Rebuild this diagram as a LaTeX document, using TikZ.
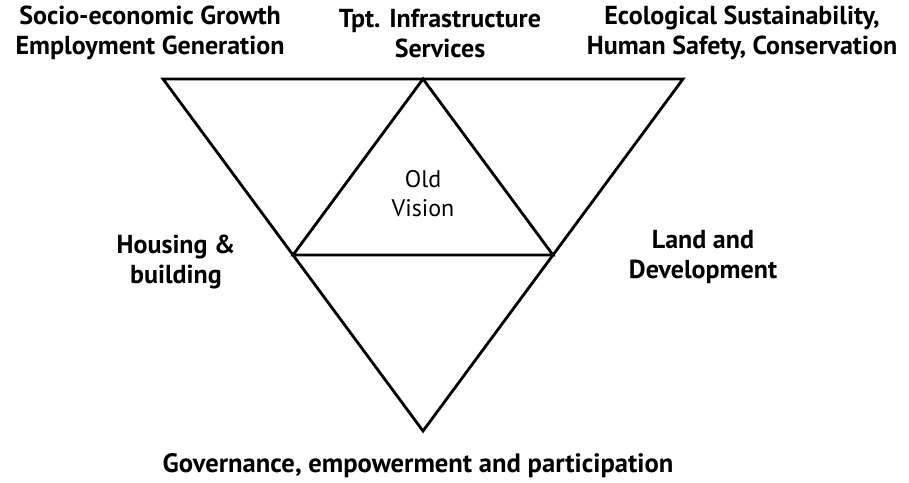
\documentclass[tikz,border=0pt]{standalone}
\usepackage{fontspec}
\setmainfont{PT Sans}
\begin{document}
\begin{tikzpicture}[x=0.5pt, y=0.5pt,
  lbl/.style={align=center, font=\fontsize{13}{15}\selectfont\bfseries, inner sep=0pt},
  txt/.style={align=center, font=\fontsize{12}{14.5}\selectfont, inner sep=0pt},
  edge/.style={line width=1.4pt, line join=miter}]
\useasboundingbox (0, 0) rectangle (909, 482);
% outer triangle and its side midpoints
\coordinate (tl) at (163, 403);
\coordinate (tr) at (683, 403);
\coordinate (bot) at (423, 51);
\coordinate (mt) at (423, 403);
\coordinate (ml) at (293, 227);
\coordinate (mr) at (553, 227);
\draw [edge] (tl) -- (tr) -- (bot) -- cycle;
\draw [edge] (mt) -- (ml) -- (mr) -- cycle;
\node [txt] (old) at (423, 288) {Old\\Vision};
% labels
\node [lbl] (socio) at (150, 449) {Socio-economic Growth\\Employment Generation};
\node [lbl] (tpt) at (440, 449) {Tpt. Infrastructure\\Services};
\node [lbl] (eco) at (742, 449) {Ecological Sustainability,\\Human Safety, Conservation};
\node [lbl] (housing) at (176, 220) {Housing \&\\building};
\node [lbl] (land) at (703, 225) {Land and\\Development};
\node [lbl, anchor=base, font=\fontsize{13.3}{15}\selectfont\bfseries] (gov) at (418, 10) {Governance, empowerment and participation};
\end{tikzpicture}
\end{document}
